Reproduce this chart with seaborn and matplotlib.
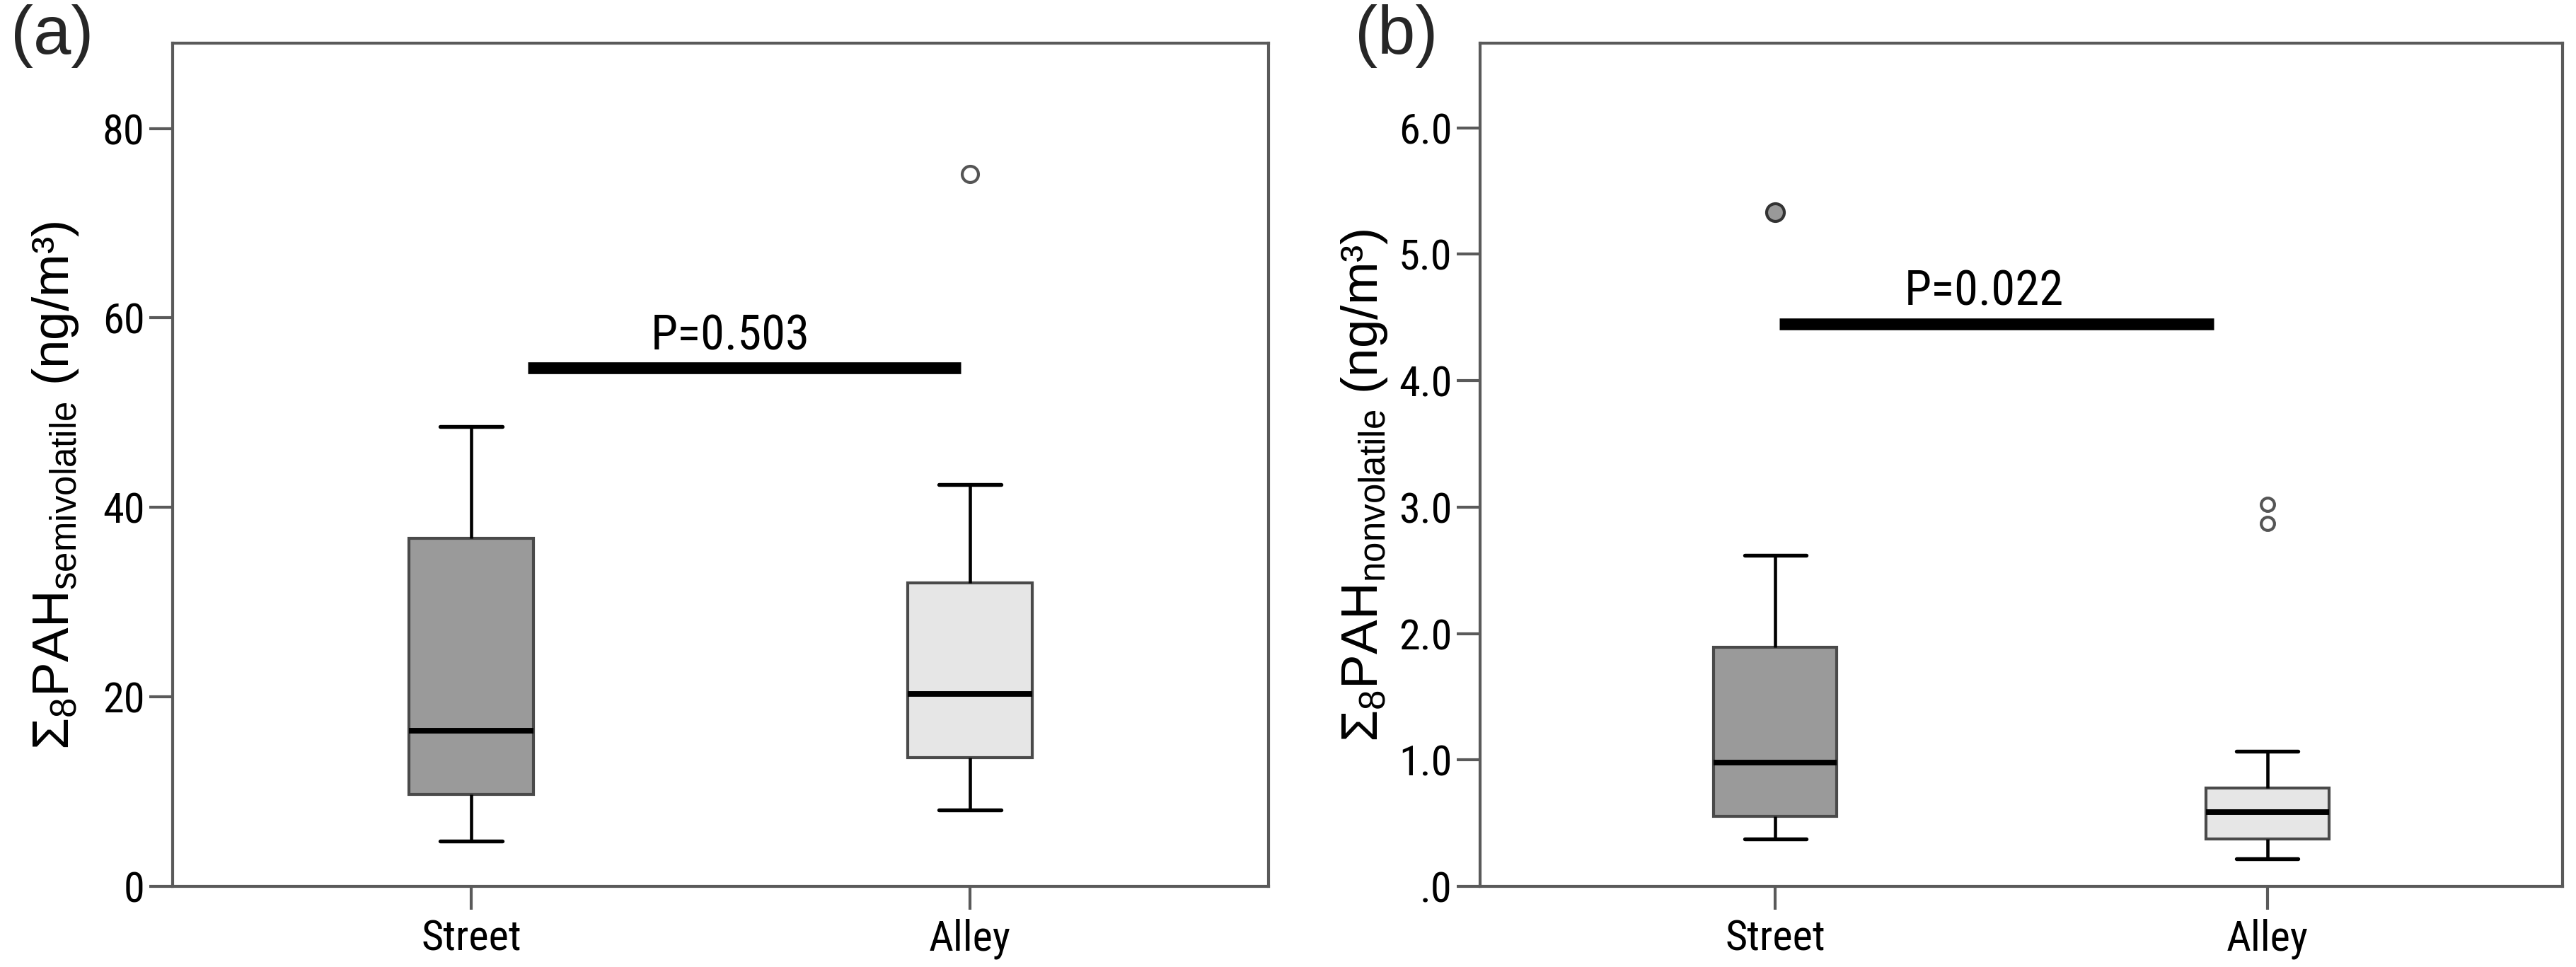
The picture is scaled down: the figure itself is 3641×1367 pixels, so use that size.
import numpy as np
import pandas as pd
import matplotlib
matplotlib.use("Agg")
import matplotlib.pyplot as plt
import seaborn as sns

# ---------------- data ----------------
sites = ["Street", "Alley"]

# panel (a): sum8 PAH semivolatile (ng/m3)
a_whislo = [4.8, 8.1]
a_q1 = [9.7, 13.6]
a_med = [16.4, 20.3]
a_q3 = [36.7, 32.0]
a_whishi = [48.5, 42.4]
a_fliers = [[], [75.2]]

# panel (b): sum8 PAH nonvolatile (ng/m3)
b_whislo = [0.375, 0.22]
b_q1 = [0.555, 0.375]
b_med = [0.98, 0.585]
b_q3 = [1.89, 0.78]
b_whishi = [2.62, 1.07]
b_fliers = [[5.33], [2.87, 3.02]]

a_yticks = [0, 20, 40, 60, 80]
a_yticklabels = ["0", "20", "40", "60", "80"]
b_yticks = [0, 1, 2, 3, 4, 5, 6]
b_yticklabels = [".0", "1.0", "2.0", "3.0", "4.0", "5.0", "6.0"]

a_pvalue = "P=0.503"
b_pvalue = "P=0.022"
a_bar_y = 54.7
b_bar_y = 4.45


def build_sample(lo, q1, med, q3, hi, fliers):
    """Sample whose linear quartiles / Tukey whiskers reproduce the summary."""
    low_f = sorted(f for f in fliers if f < q1)
    up_f = sorted(f for f in fliers if f > q3)
    k = max(len(low_f), len(up_f)) + 1
    vals = (low_f + [lo] * (k - len(low_f)) + [q1] * k + [med] * k + [q3]
            + [hi] * (k - len(up_f)) + up_f)
    return vals


def build_frame(whislo, q1, med, q3, whishi, fliers):
    rows = []
    for i, s in enumerate(sites):
        for v in build_sample(whislo[i], q1[i], med[i], q3[i], whishi[i], fliers[i]):
            rows.append({"site": s, "value": v})
    return pd.DataFrame(rows)


df_a = build_frame(a_whislo, a_q1, a_med, a_q3, a_whishi, a_fliers)
df_b = build_frame(b_whislo, b_q1, b_med, b_q3, b_whishi, b_fliers)

# ---------------- style ----------------
sns.set_theme(style="ticks")
plt.rcParams["font.family"] = ["Liberation Sans", "DejaVu Sans"]
plt.rcParams["mathtext.fontset"] = "custom"
plt.rcParams["mathtext.rm"] = "Liberation Sans"
plt.rcParams["mathtext.it"] = "Liberation Sans:italic"
plt.rcParams["mathtext.bf"] = "Liberation Sans:bold"
plt.rcParams["mathtext.sf"] = "Liberation Sans"
plt.rcParams["mathtext.default"] = "regular"

NARROW = ["Liberation Sans Narrow", "Roboto Condensed", "Liberation Sans", "DejaVu Sans"]
SPINE_C = "#5a5a5a"
BOX_EDGE = "#4a4a4a"
FILLS = ["#9a9a9a", "#e6e6e6"]

fig = plt.figure(figsize=(3641 / 300, 1367 / 300), dpi=300)
ax_a = fig.add_axes([0.0670, 0.0834, 0.4925 - 0.0670, 0.9554 - 0.0834])
ax_b = fig.add_axes([0.5746, 0.0834, 0.9948 - 0.5746, 0.9554 - 0.0834])


def draw_panel(ax, df, ylim, yticks, yticklabels, ylabel, ptext, bar_y,
               bar_x, text_x, flier_styles):
    sns.boxplot(data=df, x="site", y="value", hue="site", order=sites,
                hue_order=sites, palette=FILLS, width=0.25, saturation=1,
                legend=False, ax=ax, whis=1.5)
    conts = [c for c in ax.containers if hasattr(c, "boxes")]
    for i, c in enumerate(conts):
        for b in c.boxes:
            b.set_edgecolor(BOX_EDGE)
            b.set_linewidth(1.0)
        for w in c.whiskers:
            w.set_color("black")
            w.set_linewidth(1.1)
        for cp in c.caps:
            cp.set_color("black")
            cp.set_linewidth(1.3)
        for m in c.medians:
            m.set_color("black")
            m.set_linewidth(1.9)
            m.set_solid_capstyle("butt")
        st = flier_styles[i]
        for f in c.fliers:
            f.set_marker("o")
            f.set_markersize(st["size"])
            f.set_markerfacecolor(st["face"])
            f.set_markeredgecolor(st["edge"])
            f.set_markeredgewidth(1.0)
            f.set_zorder(5)

    ax.set_xlim(-0.6, 1.6)
    ax.set_ylim(*ylim)
    ax.set_yticks(yticks)
    ax.set_yticklabels(yticklabels, fontfamily=NARROW, fontsize=14.5, color="black")
    ax.set_xticks([0, 1])
    ax.set_xticklabels(sites, fontfamily=NARROW, fontsize=14.5, color="black")
    ax.set_xlabel("")
    ax.set_ylabel(ylabel, fontsize=17.5, color="black")
    ax.yaxis.set_label_coords(-0.084, 0.475)
    ax.tick_params(axis="both", direction="out", length=8, width=1.0,
                   color=SPINE_C)
    ax.tick_params(axis="y", pad=1.5)
    ax.tick_params(axis="x", pad=3.0)
    for sp in ax.spines.values():
        sp.set_visible(True)
        sp.set_color(SPINE_C)
        sp.set_linewidth(1.0)
    ax.set_facecolor("white")

    ax.plot(bar_x, [bar_y, bar_y], color="black", lw=4.0,
            solid_capstyle="butt", zorder=4)
    ax.text(text_x, bar_y + (ylim[1] - ylim[0]) * 0.010, ptext,
            fontfamily=NARROW, fontsize=16.5, ha="center", va="bottom",
            color="black")


draw_panel(ax_a, df_a, (0, 89), a_yticks, a_yticklabels,
           r"$\Sigma_8$PAH$_{semivolatile}$ (ng/m³)", a_pvalue, a_bar_y,
           [0.113, 0.982], 0.52,
           [dict(size=5.5, face="white", edge="#555555"),
            dict(size=5.5, face="white", edge="#555555")])

draw_panel(ax_b, df_b, (0, 6.67), b_yticks, b_yticklabels,
           r"$\Sigma_8$PAH$_{nonvolatile}$ (ng/m³)", b_pvalue, b_bar_y,
           [0.0085, 0.891], 0.424,
           [dict(size=6.0, face="#999999", edge="#333333"),
            dict(size=4.5, face="white", edge="#555555")])

fig.text(15 / 3641, 1 - 6 / 1367, "(a)", fontsize=23, ha="left", va="top")
fig.text(1915 / 3641, 1 - 6 / 1367, "(b)", fontsize=23, ha="left", va="top")

fig.savefig("out.png", dpi=300, facecolor="white")
